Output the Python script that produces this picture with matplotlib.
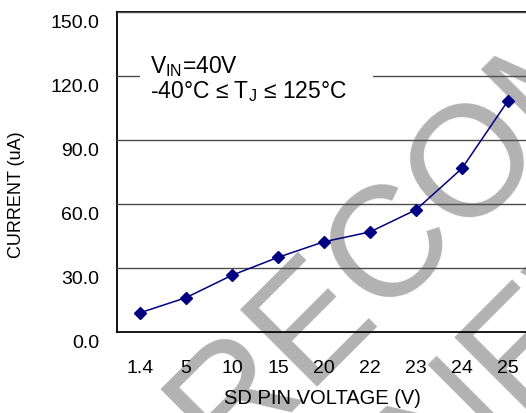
"""SD pin current vs. SD pin voltage (datasheet-style chart)."""
import matplotlib
matplotlib.use("Agg")
import matplotlib.pyplot as plt
import matplotlib.transforms as mtransforms
from matplotlib.patches import Rectangle

plt.rcParams["font.family"] = ["Liberation Sans", "DejaVu Sans"]
plt.rcParams["mathtext.fontset"] = "custom"
plt.rcParams["mathtext.rm"] = "Liberation Sans"
plt.rcParams["mathtext.it"] = "Liberation Sans:italic"

# data
sd_voltage = ["1.4", "5", "10", "15", "20", "22", "23", "24", "25"]
current_ua = [9.0, 16.1, 26.6, 35.0, 42.3, 46.9, 57.3, 76.7, 108.4]
y_ticks = [0, 30, 60, 90, 120, 150]

fig = plt.figure(figsize=(5.26, 4.13), dpi=100)
ax = fig.add_axes([117 / 526, 81 / 413, 414 / 526, 320 / 413])
ax.set_facecolor("none")

x = range(len(sd_voltage))
ax.plot(x, current_ua, color="#000080", lw=1.1, marker="D", ms=6.6,
        mfc="#000080", mec="#000080", zorder=4)

ax.set_xlim(-0.5, len(sd_voltage) - 0.5)
ax.set_ylim(0, 150)
ax.set_yticks(y_ticks)
ax.set_yticklabels([f"{v:.1f}" for v in y_ticks])
ax.set_xticks(list(x))
ax.set_xticklabels(sd_voltage)
ax.tick_params(axis="both", length=0, labelsize=14, colors="black")
ax.tick_params(axis="y", pad=13)
ax.tick_params(axis="x", pad=20)
# labels sit a bit below their gridlines, as in the original
shift = mtransforms.ScaledTranslation(0, -10 / 100, fig.dpi_scale_trans)
for lbl in ax.get_yticklabels():
    lbl.set_transform(lbl.get_transform() + shift)

ax.grid(axis="y", color="#4d4d4d", lw=1.0)
ax.set_axisbelow(False)
for side in ["left", "top", "bottom"]:
    ax.spines[side].set_color("black")
    ax.spines[side].set_linewidth(1.3)
ax.spines["right"].set_visible(False)

ax.set_xlabel("SD PIN VOLTAGE (V)", fontsize=14.5)
ax.xaxis.set_label_coords((322 - 117) / 414, (332 - 398) / 320)
ax.xaxis.label.set_va("center")
ax.set_ylabel("CURRENT (uA)", fontsize=13)
ax.yaxis.set_label_coords((17 - 117) / 414, (332 - 195) / 320)
ax.yaxis.label.set_va("center")

# white panel behind the conditions text, hiding part of the 120 gridline
ax.add_patch(Rectangle(((140 - 117) / 414, (332 - 112) / 320), 233 / 414, 66 / 320,
                       transform=ax.transAxes, fc="white", ec="none", zorder=3))
ax.text((150 - 117) / 414, (332 - 79) / 320,
        "V$_{\\mathrm{IN}}$=40V\n-40\u00b0C \u2264 T$_{\\mathrm{J}}$ \u2264 125\u00b0C",
        transform=ax.transAxes, fontsize=16.5, va="center", ha="left",
        linespacing=1.05, zorder=3.5)

# grey watermark behind the chart
fig.text(225 / 526, 1 - 467 / 413, "RECOMMENDED", fontsize=113,
         color="#b2b2b2", rotation=45, rotation_mode="anchor",
         ha="left", va="baseline", zorder=-1)
fig.text(178 / 526, 1 - 769 / 413, "FOR NEW DESIGN", fontsize=113,
         color="#b2b2b2", rotation=45, rotation_mode="anchor",
         ha="left", va="baseline", zorder=-1)

fig.savefig("out.png", dpi=100)
